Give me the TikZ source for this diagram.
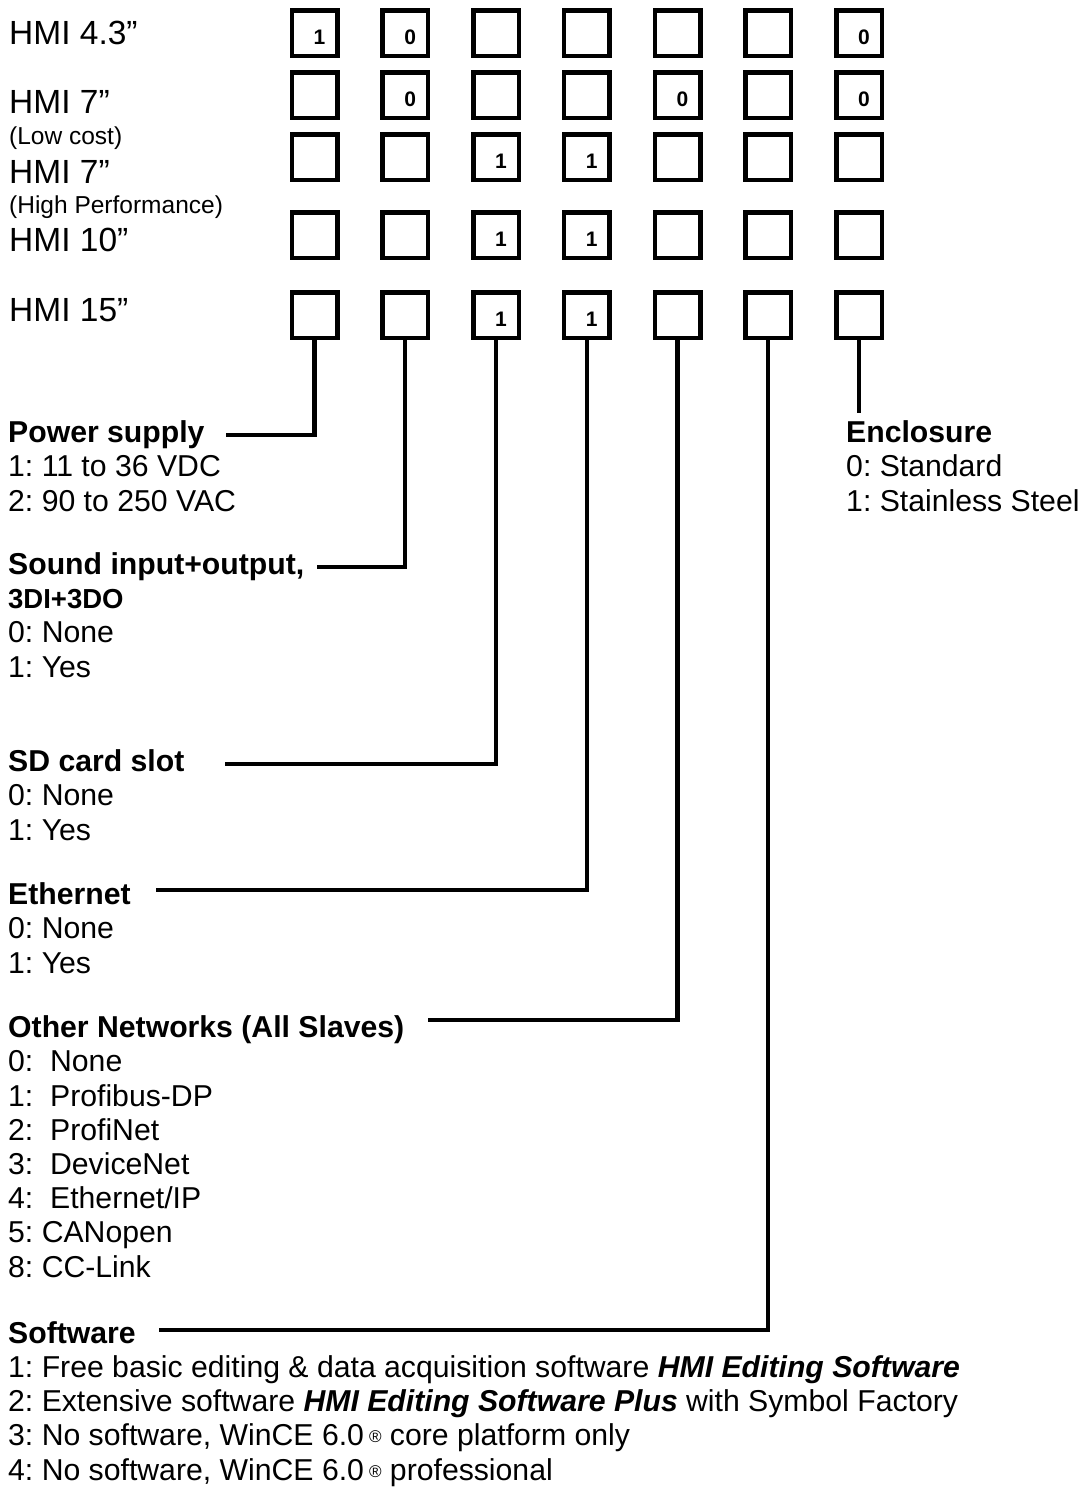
\documentclass[tikz,border=0pt]{standalone}
\usepackage{fontspec}
\setmainfont{Liberation Sans}
\usetikzlibrary{positioning, calc}
\frenchspacing

\newcommand{\regsign}{\,{\fontsize{17}{17}\selectfont\raisebox{3pt}{®}}}

\begin{document}
\begin{tikzpicture}[
    x=1pt, y=-1pt,
    optbox/.style={rectangle, draw, line width=4.5pt, minimum size=45.5pt,
                   inner sep=0pt},
    digit/.style={font=\fontsize{21}{21}\selectfont\bfseries, inner sep=0pt},
    model/.style={anchor=base west, inner sep=0pt,
                  font=\fontsize{33.5}{33.5}\selectfont},
    sub/.style={anchor=base west, inner sep=0pt,
                font=\fontsize{24.5}{24.5}\selectfont},
    % multi-line: base is the last line
    legend/.style={anchor=base west, inner sep=0pt, align=left,
                   font=\fontsize{30.2}{34.2}\selectfont},
    conn/.style={line width=4.4pt}
  ]
  \useasboundingbox (0,0) rectangle (1086,1491);

  \node[model] (m43)  at (9,44)  {HMI 4.3”};
  \node[model] (m7lc) at (9,113) {HMI 7”};
  \node[sub]   (lc)   at (9,144) {(Low cost)};
  \node[model] (m7hp) at (9,183) {HMI 7”};
  \node[sub]   (hp)   at (9,213) {(High Performance)};
  \node[model] (m10)  at (9,251) {HMI 10”};
  \node[model] (m15)  at (9,321) {HMI 15”};

  % option boxes, 7 columns x 5 models
  \foreach \c/\x in {1/314.5, 2/405.25, 3/496, 4/586.75, 5/677.5, 6/768.25, 7/859}
    \foreach \r/\y in {1/33, 2/95, 3/157, 4/235, 5/315}
      \node[optbox] (b\c\r) at (\x,\y) {};

  \foreach \b/\d in {11/1, 21/0, 71/0, 22/0, 52/0, 72/0,
                     33/1, 43/1, 34/1, 44/1, 35/1, 45/1}
    \node[digit] at ($(b\b)+(5,4)$) {\d};

  \node[legend] (pwr) at (8,511)
    {\textbf{Power supply}\\1: 11 to 36 VDC\\2: 90 to 250 VAC};
  \node[legend] (snd) at (8,677)
    {\textbf{Sound input+output,}\\{\fontsize{27.5}{34.2}\selectfont\bfseries 3DI+3DO}\\
     0: None\\1: Yes};
  \node[legend] (sd) at (8,840)
    {\textbf{SD card slot}\\0: None\\1: Yes};
  \node[legend] (eth) at (8,973)
    {\textbf{Ethernet}\\0: None\\1: Yes};
  \node[legend] (net) at (8,1277)
    {\textbf{Other Networks (All Slaves)}\\0:\ \ None\\1:\ \ Profibus-DP\\
     2:\ \ ProfiNet\\3:\ \ DeviceNet\\4:\ \ Ethernet/IP\\5: CANopen\\8: CC-Link};
  \node[legend] (sw) at (8,1480)
    {\textbf{Software}\\
     1: Free basic editing \& data acquisition software \textbf{\textit{HMI Editing Software}}\\
     2: Extensive software \textbf{\textit{HMI Editing Software Plus}} with Symbol Factory\\
     3: No software, WinCE 6.0\regsign{} core platform only\\
     4: No software, WinCE 6.0\regsign{} professional};
  \node[legend] (encl) at (846,511)
    {\textbf{Enclosure}\\0: Standard\\1: Stainless Steel};

  \coordinate (pwrend)  at (226,435);
  \coordinate (sndend)  at (317,567);
  \coordinate (sdend)   at (225,764);
  \coordinate (ethend)  at (156,890);
  \coordinate (netend)  at (428,1020);
  \coordinate (swend)   at (159,1330);
  \coordinate (enclend) at (859,413);

  \draw[conn] (b15.south) |- (pwrend);
  \draw[conn] (b25.south) |- (sndend);
  \draw[conn] (b35.south) |- (sdend);
  \draw[conn] (b45.south) |- (ethend);
  \draw[conn] (b55.south) |- (netend);
  \draw[conn] (b65.south) |- (swend);
  \draw[conn] (b75.south) -- (enclend);
\end{tikzpicture}
\end{document}
